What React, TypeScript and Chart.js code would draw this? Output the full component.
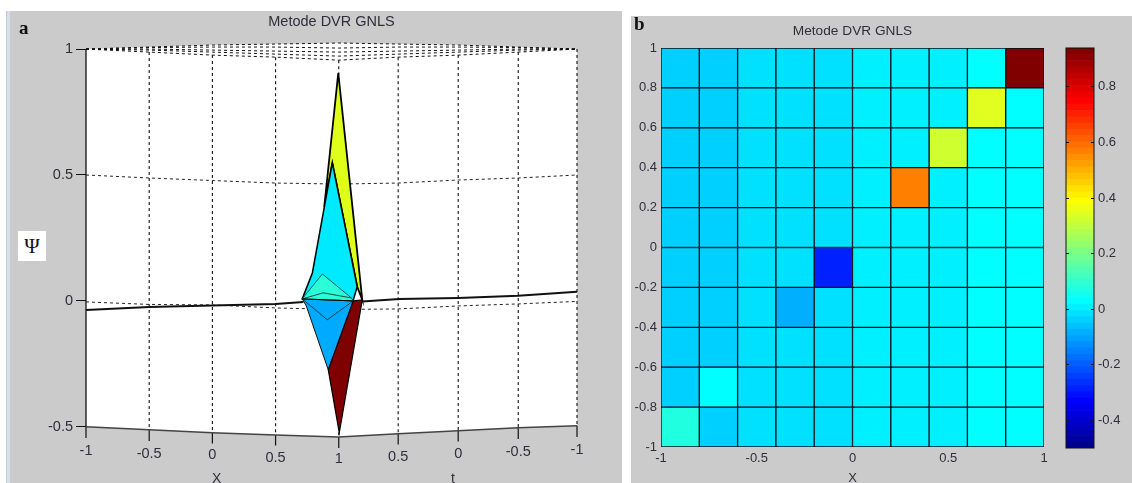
import React, { useEffect, useRef } from "react";
import { Chart, registerables } from "chart.js";

Chart.register(...registerables);

const FONT = "'Liberation Sans', Arial, sans-serif";
const INK = "#2f2f3c";
const PANEL = "#CBCBCB";

// Panel a: projected surface. surfaceU is the position along the unfolded x / t axis.
const surfaceU = [-1, -0.5, 0, 0.5, 1, 1.47, 1.945, 2.42, 2.885];
const surfaceTickLabels = ["-1", "-0.5", "0", "0.5", "1", "0.5", "0", "-0.5", "-1"];
const surfaceLabelShift = [-10, -7, -6, -3, -2, -4, -7, -9, -11];
const surfaceYTicks = [1, 0.5, 0, -0.5];
const bottomEdge = [-0.5, -0.512, -0.524, -0.532, -0.54, -0.528, -0.516, -0.504, -0.496];
const tickFoot = [-0.544, -0.556, -0.566, -0.574, -0.584, -0.57, -0.558, -0.548, -0.54];
const topEdge = [1, 1.008, 1.016, 1.02, 1.024, 1.02, 1.016, 1.008, 1];
const topCurveA = [1, 1.006, 1.008, 1.008, 1.004, 1.008, 1.008, 1.006, 1];
const topCurveB = [1, 1, 0.996, 0.992, 0.988, 0.992, 0.996, 1, 1];
const topCurveC = [1, 0.996, 0.988, 0.98, 0.972, 0.98, 0.988, 0.996, 1];
const topFloor = [1, 0.988, 0.976, 0.968, 0.956, 0.968, 0.976, 0.988, 1];
const halfLevel = [0.5, 0.488, 0.478, 0.468, 0.464, 0.468, 0.48, 0.488, 0.5];
const zeroLevel = [-0.004, -0.014, -0.016, -0.028, -0.034, -0.032, -0.02, -0.012, -0.002];
const ridgeLeftU = [-1, -0.5, 0, 0.5, 0.72];
const ridgeLeftY = [-0.036, -0.024, -0.018, -0.012, -0.004];
const ridgeRightU = [1.186, 1.478, 1.945, 2.42, 2.885];
const ridgeRightY = [-0.002, 0.008, 0.012, 0.02, 0.036];

const yellowU = [0.996, 1.186, 1.146, 0.949, 0.885];
const yellowY = [0.905, 0.004, 0.056, 0.548, 0.373];
const cyanU = [0.949, 1.146, 1.115, 0.711, 0.791];
const cyanY = [0.548, 0.056, 0.004, 0.008, 0.111];
const tealU = [0.711, 0.87, 1.099, 1.115];
const tealY = [0.008, 0.107, 0.012, 0.0];
const blueU = [0.711, 0.743, 0.917, 1.115];
const blueY = [0.008, -0.02, -0.274, 0.0];
const redU = [1.115, 1.186, 1.004, 0.917];
const redY = [0.0, 0.004, -0.524, -0.274];
const chevronUpU = [0.711, 0.877, 1.099];
const chevronUpY = [0.008, 0.032, 0.012];
const chevronDownU = [0.711, 0.909, 1.115];
const chevronDownY = [0.008, -0.075, 0.0];

// Panel b: the 10 x 10 grid, top row first.
const cellLeftToRight = [-0.9, -0.7, -0.5, -0.3, -0.1, 0.1, 0.3, 0.5, 0.7, 0.9];
const cellTopToBottom = [0.9, 0.7, 0.5, 0.3, 0.1, -0.1, -0.3, -0.5, -0.7, -0.9];
const cellValues = [
  [-0.04, -0.045, -0.015, -0.015, -0.015, 0.005, 0.005, 0.005, 0.03, 0.94],
  [-0.04, -0.045, -0.015, -0.015, -0.015, 0.005, 0.005, 0.005, 0.345, 0.03],
  [-0.04, -0.045, -0.015, -0.015, -0.015, 0.005, 0.005, 0.32, 0.03, 0.03],
  [-0.04, -0.045, -0.015, -0.015, -0.015, 0.005, 0.57, 0.005, 0.03, 0.03],
  [-0.04, -0.045, -0.015, -0.015, -0.015, 0.005, 0.005, 0.005, 0.03, 0.03],
  [-0.04, -0.045, -0.015, -0.015, -0.285, 0.005, 0.005, 0.005, 0.03, 0.03],
  [-0.04, -0.045, -0.015, -0.085, -0.015, 0.005, 0.005, 0.005, 0.03, 0.03],
  [-0.04, -0.045, -0.015, -0.015, -0.015, 0.005, 0.005, 0.005, 0.03, 0.03],
  [-0.04, 0.03, -0.015, -0.015, -0.015, 0.005, 0.005, 0.005, 0.03, 0.03],
  [0.075, -0.045, -0.015, -0.015, -0.015, 0.005, 0.005, 0.005, 0.03, 0.03],
];
const gridYTicks = [1, 0.8, 0.6, 0.4, 0.2, 0, -0.2, -0.4, -0.6, -0.8, -1];
const gridXTicks = [-1, -0.5, 0, 0.5, 1];
const barTicks = [0.8, 0.6, 0.4, 0.2, 0, -0.2, -0.4];
const barMin = -0.5;
const barMax = 0.94;
const jetColors = [
  "#000090", "#0000A0", "#0000B0", "#0000C0", "#0000D0", "#0000E0", "#0000F0", "#0000FF",
  "#0010FF", "#0020FF", "#0030FF", "#0040FF", "#0050FF", "#0060FF", "#0070FF", "#0080FF",
  "#0090FF", "#00A0FF", "#00B0FF", "#00C0FF", "#00D0FF", "#00E0FF", "#00F0FF", "#00FFFF",
  "#10FFF0", "#20FFE0", "#30FFD0", "#40FFC0", "#50FFB0", "#60FFA0", "#70FF90", "#80FF80",
  "#90FF70", "#A0FF60", "#B0FF50", "#C0FF40", "#D0FF30", "#E0FF20", "#F0FF10", "#FFFF00",
  "#FFF000", "#FFE000", "#FFD000", "#FFC000", "#FFB000", "#FFA000", "#FF9000", "#FF8000",
  "#FF7000", "#FF6000", "#FF5000", "#FF4000", "#FF3000", "#FF2000", "#FF1000", "#FF0000",
  "#F00000", "#E00000", "#D00000", "#C00000", "#B00000", "#A00000", "#900000", "#800000",
];

const colorOf = (v: number) => {
  const i = Math.floor(((v - barMin) / (barMax - barMin)) * jetColors.length);
  return jetColors[Math.max(0, Math.min(jetColors.length - 1, i))];
};

const pts = (us: number[], ys: number[]) => us.map((x, i) => ({ x, y: ys[i] }));
const closed = (us: number[], ys: number[]) => [...pts(us, ys), { x: us[0], y: ys[0] }];

function surfaceDatasets() {
  const list: any[] = [];
  const line = (data: any[], color: string, width: number, dash: number[] = []) =>
    list.push({ data, showLine: true, fill: false, borderColor: color, borderWidth: width, borderDash: dash, clip: false, order: 500 - list.length });
  const poly = (us: number[], ys: number[], fillColor: string, edge: string, width: number) =>
    list.push({ data: closed(us, ys), showLine: true, fill: "shape", backgroundColor: fillColor, borderColor: edge, borderWidth: width, clip: false, order: 500 - list.length });

  poly([...surfaceU, ...[...surfaceU].reverse()], [...topEdge, ...[...bottomEdge].reverse()], "#ffffff", "rgba(0,0,0,0)", 0);
  const dash = [3, 3];
  line(pts(surfaceU, topEdge), "#111", 1, dash);
  line(pts(surfaceU, topCurveA), "#111", 1, dash);
  line(pts(surfaceU, topCurveB), "#111", 1, dash);
  line(pts(surfaceU, topCurveC), "#111", 1, dash);
  line(pts(surfaceU, topFloor), "#111", 1, dash);
  line(pts(surfaceU, halfLevel), "#222", 1, dash);
  line(pts(surfaceU, zeroLevel), "#222", 1, dash);
  surfaceU.forEach((u, i) => {
    if (i > 0) line([{ x: u, y: topFloor[i] }, { x: u, y: bottomEdge[i] }], "#111", 1.1, dash);
    line([{ x: u, y: bottomEdge[i] }, { x: u, y: tickFoot[i] }], "#111", 1.2);
  });
  line([{ x: surfaceU[0], y: topFloor[0] }, { x: surfaceU[0], y: bottomEdge[0] }], "#111", 1.3);
  line(pts(surfaceU, bottomEdge), "#444", 1.5);
  line(pts(ridgeLeftU, ridgeLeftY), "#111", 2);
  line(pts(ridgeRightU, ridgeRightY), "#111", 2);
  poly(yellowU, yellowY, "#DFFF1A", "#000", 1.8);
  poly(cyanU, cyanY, "#00EAFF", "#000", 1.5);
  poly(blueU, blueY, "#00AAFF", "#111", 1);
  poly(tealU, tealY, "#2BFFD8", "#0a3a3a", 0.8);
  poly(redU, redY, "#7F0000", "#000", 1.2);
  line(pts(chevronUpU, chevronUpY), "#0a3a3a", 0.9);
  line(pts(chevronDownU, chevronDownY), "#0a3a3a", 0.9);
  line([{ x: tealU[0], y: tealY[0] }, { x: tealU[3], y: tealY[3] }], "#000", 1);
  return list;
}

const shiftLabels = {
  id: "shiftLabels",
  beforeDraw(chart: any) {
    const scale = chart.scales.x;
    scale.getLabelItems(chart.chartArea).forEach((item: any, i: number) => {
      item.options.translation[1] += surfaceLabelShift[i];
    });
    // The labels sit a little above the scale's box, so open its label clip upward.
    scale.top -= 16;
  },
};

const frame = {
  id: "frame",
  afterDatasetsDraw(chart: any) {
    const { ctx, chartArea: a } = chart;
    ctx.save();
    ctx.strokeStyle = "#111";
    ctx.lineWidth = 1;
    ctx.strokeRect(a.left, a.top, a.right - a.left, a.bottom - a.top);
    ctx.restore();
  },
};

export default function App() {
  const a = useRef<HTMLCanvasElement>(null);
  const b = useRef<HTMLCanvasElement>(null);
  const c = useRef<HTMLCanvasElement>(null);

  useEffect(() => {
    const tickFont = { family: FONT, size: 13 };
    const leftFont = { family: FONT, size: 14.5 };

    const surface = new Chart(a.current!, {
      type: "scatter",
      data: { datasets: surfaceDatasets() },
      plugins: [shiftLabels],
      options: {
        animation: false,
        responsive: false,
        elements: { point: { radius: 0 }, line: { tension: 0 } },
        layout: { padding: { left: 0, right: 45, top: 0, bottom: 0 } },
        plugins: {
          legend: { display: false },
          tooltip: { enabled: false },
          title: {
            display: true,
            text: "Metode DVR GNLS",
            fullSize: false,
            color: INK,
            font: { family: FONT, size: 14.5, weight: "normal" },
            padding: { top: 2.3, bottom: 8.3 },
          },
        },
        scales: {
          x: {
            type: "linear",
            min: surfaceU[0],
            max: surfaceU[surfaceU.length - 1],
            grid: { display: false, drawTicks: false },
            border: { display: false },
            afterBuildTicks: (s: any) => { s.ticks = surfaceU.map((value) => ({ value })); },
            afterFit: (s: any) => { s.height = 31; },
            ticks: {
              autoSkip: false,
              maxRotation: 0,
              padding: 0,
              color: INK,
              font: leftFont,
              callback: (_v: any, i: number) => surfaceTickLabels[i],
            },
          },
          y: {
            type: "linear",
            min: -0.6,
            max: 1.04,
            grid: { drawOnChartArea: false, tickLength: 10, tickColor: "#111" },
            border: { display: false },
            afterBuildTicks: (s: any) => { s.ticks = surfaceYTicks.map((value) => ({ value })); },
            afterFit: (s: any) => { s.width = 80; },
            ticks: { padding: 3, color: INK, font: leftFont, callback: (v: any) => String(v) },
          },
        },
      } as any,
    });

    const cells: { x: number; y: [number, number] }[] = [];
    const cellColors: string[] = [];
    cellValues.forEach((row, r) =>
      row.forEach((v, col) => {
        cells.push({ x: cellLeftToRight[col], y: [cellTopToBottom[r] - 0.1, cellTopToBottom[r] + 0.1] });
        cellColors.push(colorOf(v));
      })
    );

    const grid = new Chart(b.current!, {
      type: "bar",
      data: {
        datasets: [
          {
            data: cells,
            backgroundColor: cellColors,
            borderColor: "rgba(0,15,25,1)",
            borderWidth: 1,
            borderSkipped: false,
            barPercentage: 1,
            categoryPercentage: 1,
          },
        ],
      },
      options: {
        animation: false,
        responsive: false,
        layout: { padding: { left: 0, right: 88 } },
        plugins: {
          legend: { display: false },
          tooltip: { enabled: false },
          title: {
            display: true,
            text: "Metode DVR GNLS",
            fullSize: false,
            color: INK,
            font: { family: FONT, size: 13.7, weight: "normal" },
            padding: { top: 6.8, bottom: 8.76 },
          },
        },
        scales: {
          x: {
            type: "linear",
            offset: false,
            min: -1,
            max: 1,
            grid: { display: false, drawTicks: false },
            border: { display: false },
            afterBuildTicks: (s: any) => { s.ticks = gridXTicks.map((value) => ({ value })); },
            afterFit: (s: any) => { s.height = 36; },
            ticks: { padding: 4, maxRotation: 0, color: INK, font: tickFont, callback: (v: any) => String(v) },
            title: { display: true, text: "X", color: INK, font: tickFont, padding: { top: 0, bottom: -3 } },
          },
          y: {
            type: "linear",
            min: -1,
            max: 1,
            grid: { display: false, drawTicks: false },
            border: { display: false },
            afterBuildTicks: (s: any) => { s.ticks = gridYTicks.map((value) => ({ value })); },
            afterFit: (s: any) => { s.width = 30; },
            ticks: { autoSkip: false, padding: 4, color: INK, font: tickFont, callback: (v: any) => String(v) },
          },
        },
      } as any,
    });

    const step = (barMax - barMin) / jetColors.length;
    const colorbar = new Chart(c.current!, {
      type: "bar",
      data: {
        labels: [""],
        datasets: jetColors.map((color, i) => ({
          data: [[barMin + i * step, barMin + (i + 1) * step]],
          backgroundColor: color,
          borderWidth: 0,
          grouped: false,
          barPercentage: 1,
          categoryPercentage: 1,
        })),
      },
      plugins: [frame],
      options: {
        animation: false,
        responsive: false,
        layout: { padding: { left: 16, top: 8, bottom: 8 } },
        plugins: { legend: { display: false }, tooltip: { enabled: false } },
        scales: {
          x: { display: false },
          y: {
            position: "right",
            min: barMin,
            max: barMax,
            grid: { drawTicks: true, tickLength: 4, tickColor: "rgba(0,0,0,0)", drawOnChartArea: true, z: 1, color: "#111" },
            border: { display: false, dash: [3, 22, 3] },
            afterBuildTicks: (s: any) => { s.ticks = barTicks.map((value) => ({ value })); },
            afterFit: (s: any) => { s.width = 38; },
            ticks: { padding: 0, color: INK, font: tickFont, callback: (v: any) => String(v) },
          },
        },
      } as any,
    });

    return () => {
      surface.destroy();
      grid.destroy();
      colorbar.destroy();
    };
  }, []);

  const abs = (left: number, top: number, extra: React.CSSProperties = {}): React.CSSProperties => ({
    position: "absolute",
    left,
    top,
    ...extra,
  });
  const serif = "'Liberation Serif', 'DejaVu Serif', serif";
  const axisText: React.CSSProperties = { fontFamily: FONT, fontSize: 14, color: INK, lineHeight: "15px" };
  const soft = "blur(0.4px)";

  return (
    <div style={{ position: "fixed", left: 0, top: 0, width: 1132, height: 483, overflow: "hidden", background: "#fff" }}>
      <div style={abs(6, 11, { width: 616, height: 472, background: PANEL })} />
      <div style={abs(7, 11, { width: 3, height: 472, background: "#D5DEEC" })} />
      <div style={abs(631, 16, { width: 501, height: 467, background: PANEL })} />
      <canvas ref={a} width={616} height={472} style={abs(6, 11, { width: 616, height: 472, filter: soft })} />
      <canvas ref={b} width={501} height={467} style={abs(631, 16, { width: 501, height: 467, filter: soft })} />
      <canvas ref={c} width={82} height={416} style={abs(1050, 40, { width: 82, height: 416, filter: soft })} />
      <div style={abs(19, 17, { fontFamily: serif, fontWeight: 700, fontSize: 19, lineHeight: "22px", color: "#111" })}>a</div>
      <div style={abs(634, 13, { fontFamily: serif, fontWeight: 700, fontSize: 19, lineHeight: "22px", color: "#111" })}>b</div>
      <div style={abs(18, 231, { width: 28, height: 30, background: "#fff", fontFamily: serif, fontSize: 21, lineHeight: "30px", textAlign: "center", color: "#111" })}>Ψ</div>
      <div style={abs(212, 471, axisText)}>X</div>
      <div style={abs(451, 471, axisText)}>t</div>
    </div>
  );
}
